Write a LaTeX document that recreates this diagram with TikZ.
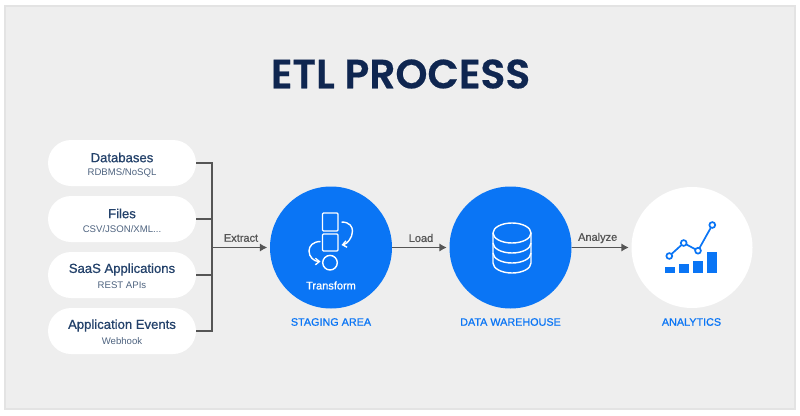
\documentclass[tikz,border=0pt]{standalone}
\usepackage{fontspec}
\setmainfont{Liberation Sans}
\newfontfamily\mediumfont{Liberation Sans}[FakeBold=0.8]
\newfontfamily\titlefont{Poppins SemiBold}[FakeBold=0.5]
\usetikzlibrary{arrows.meta}
\definecolor{panelgrey}{HTML}{EEEEEE}
\definecolor{paneledge}{HTML}{E3E3E3}
\definecolor{brandblue}{HTML}{0A75F5}
\definecolor{navy}{HTML}{0F2650}
\definecolor{inkblue}{HTML}{24426B}
\definecolor{subink}{HTML}{4F6480}
\definecolor{wire}{HTML}{555555}
\tikzset{
  sourcepill/.style={draw=none,fill=white,rounded corners=23pt,minimum width=148pt,minimum height=46pt,inner sep=0pt},
  stagecircle/.style={circle,fill=brandblue,minimum size=122pt,inner sep=0pt},
  whitecircle/.style={circle,fill=white,minimum size=121pt,inner sep=0pt},
  wireline/.style={draw=wire,line width=1.6pt},
  flowarrow/.style={wireline,shorten >=2.5pt,-{Latex[length=7.5pt,width=8.5pt]}},
  flowlabel/.style={text=wire,font=\mediumfont\fontsize{11}{13}\selectfont,inner sep=0pt},
  sourcehead/.style={text=inkblue,font=\mediumfont\fontsize{13.1}{15}\selectfont,inner sep=0pt},
  sourcesub/.style={text=subink,font=\fontsize{9.6}{11}\selectfont,inner sep=0pt},
  stagelabel/.style={text=brandblue,font=\mediumfont\fontsize{10.8}{12}\selectfont,inner sep=0pt},
  iconline/.style={draw=white,line width=1.4pt},
  iconarrow/.style={iconline,-{Straight Barb[length=4pt,width=6.5pt]}},
}
\begin{document}
\begin{tikzpicture}[x=1pt,y=-1pt]
\useasboundingbox (0,0) rectangle (800,415);
% page and panel
\fill[white] (0,0) rectangle (800,415);
\draw[fill=panelgrey,draw=paneledge,line width=1.5pt] (5,6) rectangle (795,409);
\node[text=navy,font=\titlefont\fontsize{40.8}{44}\selectfont,inner sep=0pt] (title) at (400.5,74) {ETL PROCESS};

% data sources
\node[sourcepill] (db) at (122,163) {};
\node[sourcepill] (files) at (122,219) {};
\node[sourcepill] (saas) at (122,275) {};
\node[sourcepill] (events) at (122,331) {};
\node[sourcehead] (dbhead) at (122,157.5) {Databases};
\node[sourcesub] (dbsub) at (122,173) {RDBMS/NoSQL};
\node[sourcehead] (fileshead) at (122,213.5) {Files};
\node[sourcesub] (filessub) at (122,229) {CSV/JSON/XML...};
\node[sourcehead] (saashead) at (122,269.5) {SaaS Applications};
\node[sourcesub] (saassub) at (122,285) {REST APIs};
\node[sourcehead] (eventshead) at (122,325.5) {Application Events};
\node[sourcesub] (eventssub) at (122,341) {Webhook};

% stages
\node[stagecircle] (staging) at (331,247.5) {};
\node[stagecircle] (warehouse) at (510.5,247.5) {};
\node[whitecircle] (analytics) at (692,247.5) {};
\node[text=white,font=\mediumfont\fontsize{11}{13}\selectfont,inner sep=0pt] (transform) at (331,285.5) {Transform};
\node[stagelabel] (staginglabel) at (331,322) {STAGING AREA};
\node[stagelabel] (warehouselabel) at (510.5,322) {DATA WAREHOUSE};
\node[stagelabel] (analyticslabel) at (691.5,322) {ANALYTICS};

% bus collecting the sources into the extract arrow
\coordinate (bus) at (212,247.5);
\draw[wireline] (db.east) -| (bus);
\draw[wireline] (files.east) -| (bus);
\draw[wireline] (saas.east) -| (bus);
\draw[wireline] (events.east) -| (bus);
\draw[flowarrow] (bus) -- (staging.west);
\draw[flowarrow] (staging.east) -- (warehouse.west);
\draw[flowarrow] (warehouse.east) -- (analytics.west);
\node[flowlabel] (extract) at (241,238) {Extract};
\node[flowlabel] (load) at (421,238) {Load};
\node[flowlabel] (analyze) at (597.7,238) {Analyze};

% transform icon
\draw[iconline,rounded corners=1pt] (322.5,213) rectangle (338,231);
\draw[iconline,rounded corners=1pt] (322.5,234) rectangle (338,251);
\draw[iconline] (330,262.7) circle (7.3);
\draw[iconarrow] (341.5,222) .. controls (350,222) and (352.5,227) .. (352.5,231) .. controls (352.5,238) and (347,244) .. (341.5,245);
\draw[iconarrow] (320.5,241.5) .. controls (313,241.5) and (309,246) .. (309,251) .. controls (309,257) and (314,261.5) .. (320.5,261.5);

% database icon
\draw[iconline] (512,233) ellipse (19 and 10);
\draw[iconline] (493,233) -- (493,263) arc[start angle=180,end angle=360,x radius=19,y radius=-10] -- (531,233);
\draw[iconline] (493,243) arc[start angle=180,end angle=360,x radius=19,y radius=-10];
\draw[iconline] (493,253) arc[start angle=180,end angle=360,x radius=19,y radius=-10];

% analytics icon
\fill[brandblue] (665,266.7) rectangle (675,272.7);
\fill[brandblue] (679,264.3) rectangle (689,272.7);
\fill[brandblue] (693.3,261.3) rectangle (703.3,272.7);
\fill[brandblue] (707.3,252.3) rectangle (717,272.7);
\draw[brandblue,line width=1.7pt] (669.3,256) -- (683.7,243) -- (698,250.7) -- (712.3,225);
\foreach \px/\py in {669.3/256,683.7/243,698/250.7,712.3/225}
  \draw[brandblue,line width=1.7pt,fill=white] (\px,\py) circle (2.9);
\end{tikzpicture}
\end{document}
